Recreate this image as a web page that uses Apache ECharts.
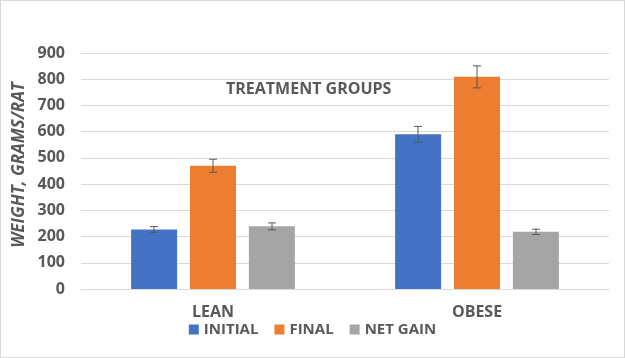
<!DOCTYPE html>
<html><head><meta charset="utf-8">
<script src="https://cdn.jsdelivr.net/npm/echarts@6/dist/echarts.min.js"></script>
<style>html,body{margin:0;padding:0;background:#fff}#c{width:625px;height:358px;box-sizing:border-box;border:1px solid #d9d9d9}</style>
</head><body><div id="c"></div>
<script>
const categories = ['LEAN', 'OBESE'];
const seriesNames = ['INITIAL', 'FINAL', 'NET GAIN'];
const initial = [227, 590];
const final = [470, 809];
const netGain = [239, 218];
const initialErr = [11, 30];
const finalErr = [25, 42];
const netGainErr = [13, 10];
const yTicks = [0, 100, 200, 300, 400, 500, 600, 700, 800, 900];

const colors = ['#4472c4', '#ed7d31', '#a5a5a5'];
const values = [initial, final, netGain];
const errs = [initialErr, finalErr, netGainErr];
const txt = '#595959';
const font = '"Open Sans", sans-serif';

const chart = echarts.init(document.getElementById('c'));
const series = [];
values.forEach((v, i) => {
  series.push({
    name: seriesNames[i], type: 'bar', data: v, barWidth: 46, barGap: '28%',
    itemStyle: { color: colors[i] }
  });
});
values.forEach((v, i) => {
  series.push({
    type: 'custom', silent: true, z: 10,
    data: v.map((val, k) => [k, val - errs[i][k], val + errs[i][k]]),
    renderItem: function (params, api) {
      const off = (i - 1) * 59;
      const lo = api.coord([api.value(0), api.value(1)]);
      const hi = api.coord([api.value(0), api.value(2)]);
      const x = lo[0] + off;
      const cap = 4;
      const st = { stroke: '#595959', lineWidth: 1 };
      return { type: 'group', children: [
        { type: 'line', shape: { x1: x, y1: lo[1], x2: x, y2: hi[1] }, style: st },
        { type: 'line', shape: { x1: x - cap, y1: lo[1], x2: x + cap, y2: lo[1] }, style: st },
        { type: 'line', shape: { x1: x - cap, y1: hi[1], x2: x + cap, y2: hi[1] }, style: st }
      ]};
    }
  });
});
chart.setOption({
  animation: false,
  grid: { left: 80, right: 15, top: 52, bottom: 68 },
  legend: {
    data: seriesNames, bottom: 15, left: 'center', itemWidth: 10, itemHeight: 10, itemGap: 16,
    icon: 'rect', textStyle: { color: txt, fontSize: 15, fontWeight: 'bold', fontFamily: font }
  },
  graphic: [
    { type: 'text', left: 225, top: 80, style: { text: 'TREATMENT GROUPS', fill: txt, font: 'bold 16px ' + font } },
    { type: 'text', x: 18, y: 164, rotation: Math.PI / 2, style: { text: 'WEIGHT, GRAMS/RAT', fill: txt, font: 'italic bold 17px ' + font, align: 'center', verticalAlign: 'middle' } }
  ],
  xAxis: {
    type: 'category', data: categories,
    axisLine: { lineStyle: { color: '#d9d9d9' } }, axisTick: { show: false },
    axisLabel: { color: txt, fontSize: 16, fontWeight: 'bold', fontFamily: font, margin: 15 }
  },
  yAxis: {
    type: 'value', min: yTicks[0], max: yTicks[yTicks.length - 1], interval: 100,
    axisLine: { show: false }, axisTick: { show: false },
    splitLine: { lineStyle: { color: '#d9d9d9' } },
    axisLabel: { color: txt, fontSize: 16, fontWeight: 'bold', fontFamily: font, margin: 16 }
  },
  series: series
});
</script></body></html>
